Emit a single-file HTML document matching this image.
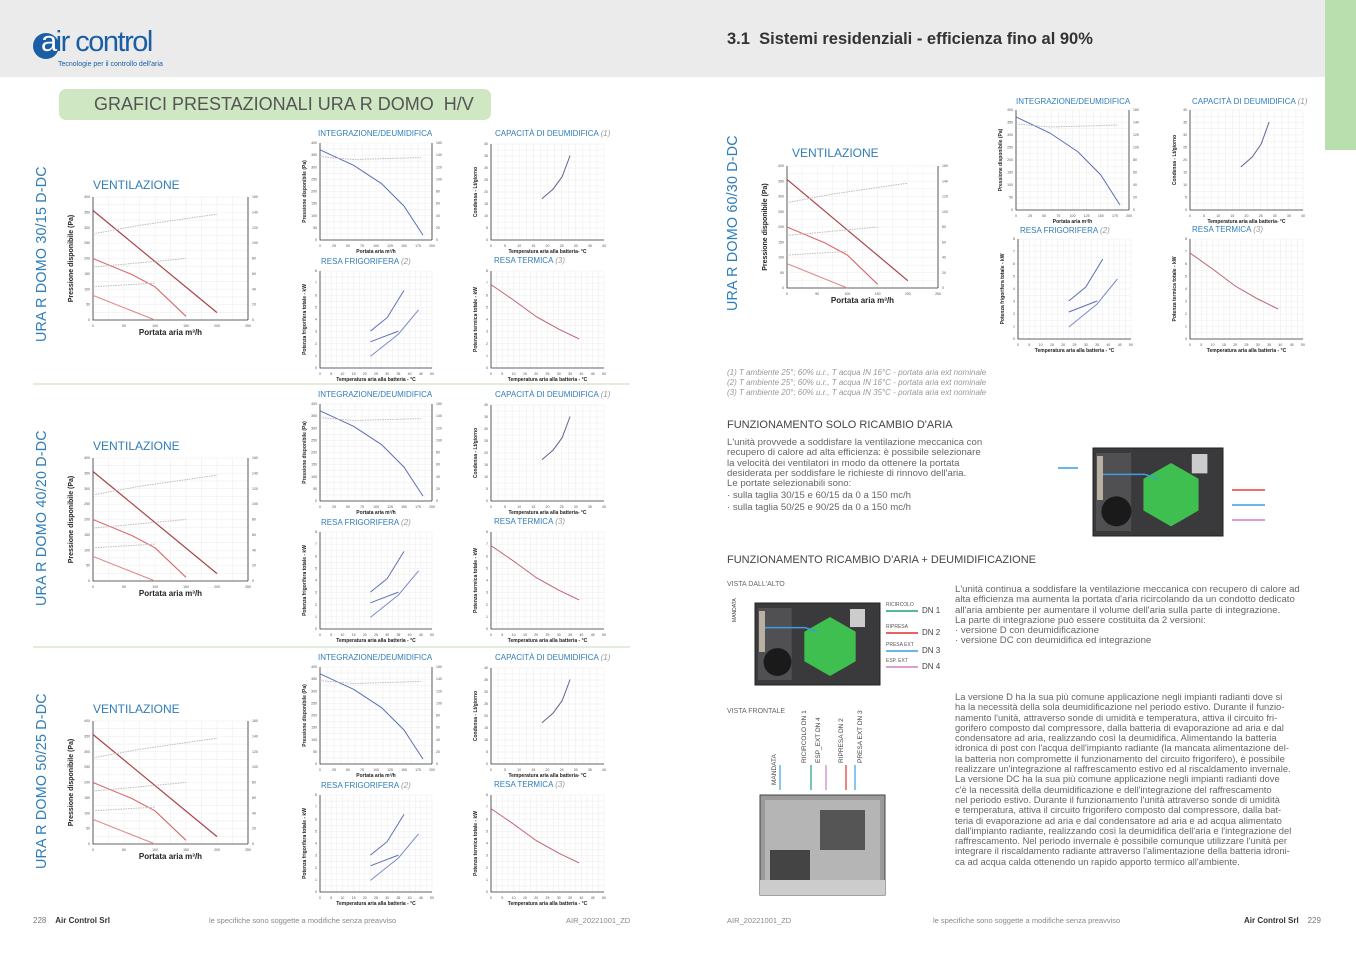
<!DOCTYPE html>
<html><head><meta charset="utf-8">
<style>
*{margin:0;padding:0;box-sizing:border-box}
body{width:1356px;height:959px;background:#fff;position:relative;overflow:hidden;font-family:"Liberation Sans",sans-serif;color:#555}
.a{position:absolute;white-space:nowrap}
.vt{position:absolute;transform:rotate(-90deg);transform-origin:left top;color:#2f7db9;font-size:14.3px;letter-spacing:0.2px}
.p{position:absolute;font-size:9.6px;line-height:10.3px;color:#666;white-space:nowrap}
.sep{position:absolute;left:33px;width:597px;height:2px;background:#e2eedb}
</style></head><body>
<div class="a" style="left:0;top:0;width:1356px;height:77px;background:#ebebeb"></div>
<div class="a" style="left:1325px;top:0;width:31px;height:150px;background:#b9dfae"></div>
<div class="a" style="left:33px;top:33px;width:26px;height:26px;border-radius:50%;background:#1b5ea6"></div>
<div class="a" style="left:41px;top:26px;font-size:29px;color:#1b5ea6;letter-spacing:-1.5px;font-family:'Liberation Sans Narrow','Liberation Sans',sans-serif"><span style="color:#fff">a</span>ir control</div>
<div class="a" style="left:58px;top:61px;font-size:7px;color:#1b5ea6">Tecnologie per il controllo dell'aria</div>
<div class="a" style="left:727px;top:30px;font-size:16.5px;font-weight:bold;color:#333">3.1&nbsp; Sistemi residenziali - efficienza fino al 90%</div>
<div class="a" style="left:59px;top:89px;width:432px;height:31px;border-radius:7px;background:#d0e7c3"></div>
<div class="a" style="left:94px;top:94px;font-size:18px;color:#555">GRAFICI PRESTAZIONALI URA R DOMO&nbsp; H/V</div>
<div class="sep" style="top:383px"></div>
<div class="sep" style="top:646px"></div>

<div class="vt" style="left:34px;top:342px">URA R DOMO 30/15 D-DC</div>
<div class="vt" style="left:34px;top:606px">URA R DOMO 40/20 D-DC</div>
<div class="vt" style="left:34px;top:869px">URA R DOMO 50/25 D-DC</div>
<div class="vt" style="left:725px;top:311px">URA R DOMO 60/30 D-DC</div>

<svg id="sv" class="a" style="left:0;top:0" width="1356" height="959"></svg>
<div id="lab"></div>

<div class="a" style="left:727px;top:368px;font-size:8px;line-height:10px;color:#999;font-style:italic">(1) T ambiente 25°; 60% u.r., T acqua IN 16°C - portata aria ext nominale<br>(2) T ambiente 25°; 60% u.r., T acqua IN 16°C - portata aria ext nominale<br>(3) T ambiente 20°; 60% u.r., T acqua IN 35°C - portata aria ext nominale</div>
<div class="a" style="left:727px;top:419px;font-size:11px;color:#444">FUNZIONAMENTO SOLO RICAMBIO D'ARIA</div>
<div class="p" style="left:727px;top:438px">L'unità provvede a soddisfare la ventilazione meccanica con<br>recupero di calore ad alta efficienza: è possibile selezionare<br>la velocità dei ventilatori in modo da ottenere la portata<br>desiderata per soddisfare le richieste di rinnovo dell'aria.<br>Le portate selezionabili sono:<br><span style="line-height:14px">· sulla taglia 30/15 e 60/15 da 0 a 150 mc/h</span><br>· sulla taglia 50/25 e 90/25 da 0 a 150 mc/h</div>
<div class="a" style="left:727px;top:554px;font-size:11px;color:#444">FUNZIONAMENTO RICAMBIO D'ARIA + DEUMIDIFICAZIONE</div>
<div class="a" style="left:727px;top:581px;font-size:7px;color:#666">VISTA DALL'ALTO</div>
<div class="a" style="left:727px;top:708px;font-size:7px;color:#666">VISTA FRONTALE</div>
<div class="p" style="left:955px;top:585px">L'unità continua a soddisfare la ventilazione meccanica con recupero di calore ad<br>alta efficienza ma aumenta la portata d'aria ricircolando da un condotto dedicato<br>all'aria ambiente per aumentare il volume dell'aria sulla parte di integrazione.<br>La parte di integrazione può essere costituita da 2 versioni:<br>· versione D con deumidificazione<br>· versione DC con deumidifica ed integrazione</div>
<div class="p" style="left:955px;top:692px;font-size:9.4px">La versione D ha la sua più comune applicazione negli impianti radianti dove si<br>ha la necessità della sola deumidificazione nel periodo estivo. Durante il funzio-<br>namento l'unità, attraverso sonde di umidità e temperatura, attiva il circuito fri-<br>gorifero composto dal compressore, dalla batteria di evaporazione ad aria e dal<br>condensatore ad aria, realizzando così la deumidifica. Alimentando la batteria<br>idronica di post con l'acqua dell'impianto radiante (la mancata alimentazione del-<br>la batteria non compromette il funzionamento del circuito frigorifero), è possibile<br>realizzare un'integrazione al raffrescamento estivo ed al riscaldamento invernale.<br>La versione DC ha la sua più comune applicazione negli impianti radianti dove<br>c'è la necessità della deumidificazione e dell'integrazione del raffrescamento<br>nel periodo estivo. Durante il funzionamento l'unità attraverso sonde di umidità<br>e temperatura, attiva il circuito frigorifero composto dal compressore, dalla bat-<br>teria di evaporazione ad aria e dal condensatore ad aria e ad acqua alimentato<br>dall'impianto radiante, realizzando così la deumidifica dell'aria e l'integrazione del<br>raffrescamento. Nel periodo invernale è possibile comunque utilizzare l'unità per<br>integrare il riscaldamento radiante attraverso l'alimentazione della batteria idroni-<br>ca ad acqua calda ottenendo un rapido apporto termico all'ambiente.</div>

<div class="a" style="left:33px;top:916px;font-size:8px;color:#777">228&nbsp;&nbsp;&nbsp; <b style="color:#333">Air Control Srl</b></div>
<div class="a" style="left:209px;top:916px;font-size:7.5px;color:#888">le specifiche sono soggette a modifiche senza preavviso</div>
<div class="a" style="left:566px;top:916px;font-size:7.5px;color:#888">AIR_20221001_ZD</div>
<div class="a" style="left:727px;top:916px;font-size:7.5px;color:#888">AIR_20221001_ZD</div>
<div class="a" style="left:933px;top:916px;font-size:7.5px;color:#888">le specifiche sono soggette a modifiche senza preavviso</div>
<div class="a" style="left:1244px;top:916px;font-size:8px;color:#777"><b style="color:#333">Air Control Srl</b>&nbsp;&nbsp;&nbsp; 229</div>

<script>
var S=document.getElementById('sv'),L=document.getElementById('lab'),h='',lh='';
function lab(x,y,t,st){lh+='<div class="a" style="left:'+x+'px;top:'+y+'px;'+(st||'')+'">'+t+'</div>';}
function chart(x,y,w,hh,ser,opt){
  var nx=opt.nx||10,ny=opt.ny||8;
  for(var i=0;i<=nx*2;i++){var gx=x+w*i/(nx*2);h+='<line x1="'+gx+'" y1="'+y+'" x2="'+gx+'" y2="'+(y+hh)+'" stroke="#eee" stroke-width="0.6"/>';}
  for(var j=0;j<=ny*2;j++){var gy=y+hh*j/(ny*2);h+='<line x1="'+x+'" y1="'+gy+'" x2="'+(x+w)+'" y2="'+gy+'" stroke="#eee" stroke-width="0.6"/>';}
  h+='<path d="M'+x+' '+y+'V'+(y+hh)+'H'+(x+w)+'" fill="none" stroke="#333" stroke-width="0.8"/>';
  if(opt.r)h+='<line x1="'+(x+w)+'" y1="'+y+'" x2="'+(x+w)+'" y2="'+(y+hh)+'" stroke="#333" stroke-width="0.8"/>';
  for(var i=0;i<=nx;i++){h+='<text x="'+(x+w*i/nx)+'" y="'+(y+hh+7)+'" font-size="3.5" fill="#555" text-anchor="middle">'+(i*(opt.xs||25))+'</text>';}
  for(var j=0;j<=ny;j++){h+='<text x="'+(x-3)+'" y="'+(y+hh-hh*j/ny+1)+'" font-size="3.5" fill="#555" text-anchor="end">'+(j*(opt.ys||50))+'</text>';
    if(opt.r)h+='<text x="'+(x+w+4)+'" y="'+(y+hh-hh*j/ny+1)+'" font-size="3.5" fill="#555">'+(j*20)+'</text>';}
  ser.forEach(function(s){var d='';s.p.forEach(function(p,k){d+=(k?'L':'M')+(x+w*p[0]).toFixed(1)+' '+(y+hh*(1-p[1])).toFixed(1);});
    h+='<path d="'+d+'" fill="none" stroke="'+s.c+'" stroke-width="'+(s.w||1)+'"'+(s.d?' stroke-dasharray="1.5 1"':'')+'/>';});
  if(opt.xl)lab(x+w/2-50,y+hh+(opt.big?8:9),opt.xl,'width:100px;text-align:center;font-size:'+(opt.big?'8px':'5px')+';font-weight:bold;color:#222');
  if(opt.yl)h+='<text transform="translate('+(x-(opt.big?20:14))+','+(y+hh/2)+') rotate(-90)" font-size="'+(opt.big?7:5)+'" font-weight="bold" fill="#222" text-anchor="middle">'+opt.yl+'</text>';
}
var R='#d9686a',BL='#5a6fb5',GR='#bbb';
function vent(x,y,w,hh){chart(x,y,w,hh,[
 {p:[[0,0.89],[0.8,0.06]],c:'#a94448',w:1.2},
 {p:[[0,0.5],[0.25,0.37],[0.4,0.27],[0.6,0.03]],c:R,w:1.1},
 {p:[[0,0.2],[0.4,0]],c:'#e08a8c',w:1.1},
 {p:[[0,0.7],[0.3,0.77],[0.8,0.86]],c:GR,d:1},
 {p:[[0,0.43],[0.6,0.5]],c:GR,d:1},
 {p:[[0,0.27],[0.4,0.3]],c:GR,d:1}],
 {r:1,nx:5,ny:8,xs:50,ys:50,big:1,xl:'Portata aria m³/h',yl:'Pressione disponibile (Pa)'});}
function integ(x,y,w,hh){chart(x,y,w,hh,[{p:[[0,0.93],[0.3,0.77],[0.55,0.58],[0.75,0.35],[0.92,0.05]],c:BL},{p:[[0,0.86],[0.3,0.83],[0.9,0.85]],c:GR,d:1}],{r:1,nx:8,ny:8,xl:'Portata aria m³/h',yl:'Pressione disponibile (Pa)'});}
function capa(x,y,w,hh){chart(x,y,w,hh,[{p:[[0.45,0.43],[0.55,0.53],[0.63,0.66],[0.7,0.88]],c:'#6a6090'}],{nx:8,ny:8,xs:5,ys:5,xl:'Temperatura aria alla batteria- °C',yl:'Condensa - Lt/giorno'});}
function frig(x,y,w,hh){chart(x,y,w,hh,[{p:[[0.45,0.38],[0.6,0.52],[0.75,0.8]],c:BL},{p:[[0.45,0.27],[0.7,0.38]],c:BL},{p:[[0.45,0.12],[0.7,0.35],[0.88,0.6]],c:'#7a8ad0'}],{nx:10,ny:8,xs:5,ys:1,xl:'Temperatura aria alla batteria - °C',yl:'Potenza frigorifera totale - kW'});}
function term(x,y,w,hh){chart(x,y,w,hh,[{p:[[0,0.86],[0.2,0.7],[0.4,0.53],[0.6,0.4],[0.78,0.3]],c:'#c06070'}],{nx:10,ny:8,xs:5,ys:1,xl:'Temperatura aria alla batteria - °C',yl:'Potenza termica totale - kW'});}
function title(x,y,t,n){lab(x,y,t+(n?' <i style="color:#999">('+n+')</i>':''),'font-size:8px;color:#2f7db9');}
[0,261,524].forEach(function(o){
 lab(93,178+o,'VENTILAZIONE','font-size:12px;color:#2f7db9');
 vent(93,197+o,155,123);
 title(318,129+o,'INTEGRAZIONE/DEUMIDIFICA');integ(320,143+o,112,97);
 title(495,129+o,'CAPACITÀ DI DEUMIDIFICA','1');capa(491,144+o,113,96);
 title(321,257+o,'RESA FRIGORIFERA','2');frig(320,271+o,112,97);
 title(494,256+o,'RESA TERMICA','3');term(491,271+o,113,97);
});
lab(792,146,'VENTILAZIONE','font-size:12px;color:#2f7db9');vent(787,166,151,122);
title(1016,97,'INTEGRAZIONE/DEUMIDIFICA');integ(1016,110,113,100);
title(1192,97,'CAPACITÀ DI DEUMIDIFICA','1');capa(1190,110,113,100);
title(1020,226,'RESA FRIGORIFERA','2');frig(1018,239,113,100);
title(1192,225,'RESA TERMICA','3');term(1190,239,113,100);
function unit(x,y,w,hh){h+='<rect x="'+x+'" y="'+y+'" width="'+w+'" height="'+hh+'" fill="#3a3a3c" stroke="#222"/>'+
 '<rect x="'+(x+3)+'" y="'+(y+5)+'" width="'+(w*0.27)+'" height="'+(hh-10)+'" fill="#505052"/>'+
 '<rect x="'+(x+4)+'" y="'+(y+8)+'" width="6" height="'+(hh*0.5)+'" fill="#b8b0a0"/>'+
 '<circle cx="'+(x+w*0.18)+'" cy="'+(y+hh*0.72)+'" r="'+(hh*0.17)+'" fill="#1a1a1a"/>'+
 '<rect x="'+(x+w*0.76)+'" y="'+(y+6)+'" width="'+(w*0.12)+'" height="'+(hh*0.22)+'" fill="#ccc"/>';
 var cx=x+w*0.6,cy=y+hh*0.53,r=hh*0.36;
 h+='<polygon points="'+cx+','+(cy-r)+' '+(cx+r*0.87)+','+(cy-r/2)+' '+(cx+r*0.87)+','+(cy+r/2)+' '+cx+','+(cy+r)+' '+(cx-r*0.87)+','+(cy+r/2)+' '+(cx-r*0.87)+','+(cy-r/2)+'" fill="#3fbf4f"/>'+
 '<path d="M'+(x+10)+' '+(y+hh*0.3)+'H'+(x+w*0.4)+'L'+(x+w*0.5)+' '+(y+hh*0.35)+'" stroke="#3a9ee0" stroke-width="1.5" fill="none"/>';}
unit(1093,448,130,88);
h+='<line x1="1058" y1="468" x2="1078" y2="468" stroke="#3a9ee0" stroke-width="1.5"/><line x1="1232" y1="490" x2="1265" y2="490" stroke="#e04040" stroke-width="1.5"/><line x1="1232" y1="505" x2="1265" y2="505" stroke="#3a9ee0" stroke-width="1.5"/><line x1="1232" y1="520" x2="1265" y2="520" stroke="#d080c0" stroke-width="1.5"/>';
unit(755,603,125,82);
[['RICIRCOLO','DN 1','#20a070',611],['RIPRESA','DN 2','#e03030',633],['PRESA EXT','DN 3','#3a9ee0',651],['ESP. EXT','DN 4','#d080c0',667]].forEach(function(a){
 h+='<line x1="886" y1="'+a[3]+'" x2="918" y2="'+a[3]+'" stroke="'+a[2]+'" stroke-width="1.5"/>';
 lab(886,a[3]-9,a[0],'font-size:5px;color:#555');lab(922,a[3]-5,a[1],'font-size:8px;color:#444');});
h+='<rect x="760" y="795" width="125" height="100" fill="#9a9a9a" stroke="#444"/><rect x="765" y="800" width="115" height="80" fill="#b5b5b5"/><rect x="820" y="810" width="45" height="40" fill="#555"/><rect x="770" y="850" width="40" height="30" fill="#444"/><rect x="760" y="880" width="125" height="15" fill="#ccc"/>';
[[780,'#3a9ee0'],[811,'#20a070'],[826,'#d080c0'],[846,'#e03030'],[855,'#3a9ee0']].forEach(function(a){h+='<line x1="'+a[0]+'" y1="765" x2="'+a[0]+'" y2="790" stroke="'+a[1]+'" stroke-width="1.2"/>';});
[[776,'MANDATA',785],[806,'RICIRCOLO DN 1',763],[820,'ESP_EXT DN 4',763],[843,'RIPRESA DN 2',763],[862,'PRESA EXT DN 3',763]].forEach(function(a){
 h+='<text transform="translate('+a[0]+','+a[2]+') rotate(-90)" font-size="6.5" fill="#444">'+a[1]+'</text>';});
h+='<text transform="translate(736,622) rotate(-90)" font-size="5" fill="#444">MANDATA</text>';
S.innerHTML=h;L.innerHTML=lh;
</script>
</body></html>
